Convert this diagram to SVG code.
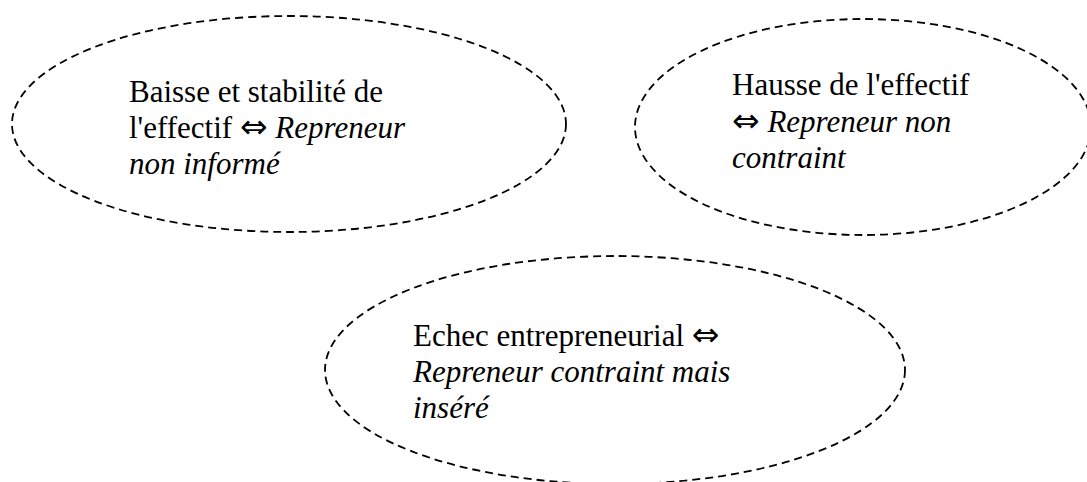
<svg xmlns="http://www.w3.org/2000/svg" width="1087" height="482" viewBox="0 0 1087 482">
<style>
.node ellipse{fill:none;stroke:#000;stroke-width:1.8;stroke-dasharray:8 5}
text{font-family:"Liberation Serif","Times New Roman",serif;font-size:31px;fill:#000}
.i{font-style:italic}
.a{font-family:"DejaVu Sans",sans-serif;font-size:33px}
</style>
<rect width="1087" height="482" fill="#fff"/>
<g id="connectors"/>
<g id="node1" class="node">
<ellipse cx="289" cy="124" rx="277" ry="108"/>
<text x="129" y="102">Baisse et stabilité de</text>
<text x="129" y="138">l'effectif <tspan class="a">⇔</tspan> <tspan class="i">Repreneur</tspan></text>
<text x="129" y="174" class="i">non informé</text>
</g>
<g id="node2" class="node">
<ellipse cx="863" cy="127" rx="228" ry="108"/>
<text x="732" y="95">Hausse de l'effectif</text>
<text x="732" y="132"><tspan class="a">⇔</tspan> <tspan class="i">Repreneur non</tspan></text>
<text x="732" y="168" class="i">contraint</text>
</g>
<g id="node3" class="node">
<ellipse cx="615" cy="370" rx="290" ry="114"/>
<text x="413" y="346">Echec entrepreneurial <tspan class="a">⇔</tspan></text>
<text x="413" y="382" class="i">Repreneur contraint mais</text>
<text x="413" y="418" class="i">inséré</text>
</g>
</svg>
